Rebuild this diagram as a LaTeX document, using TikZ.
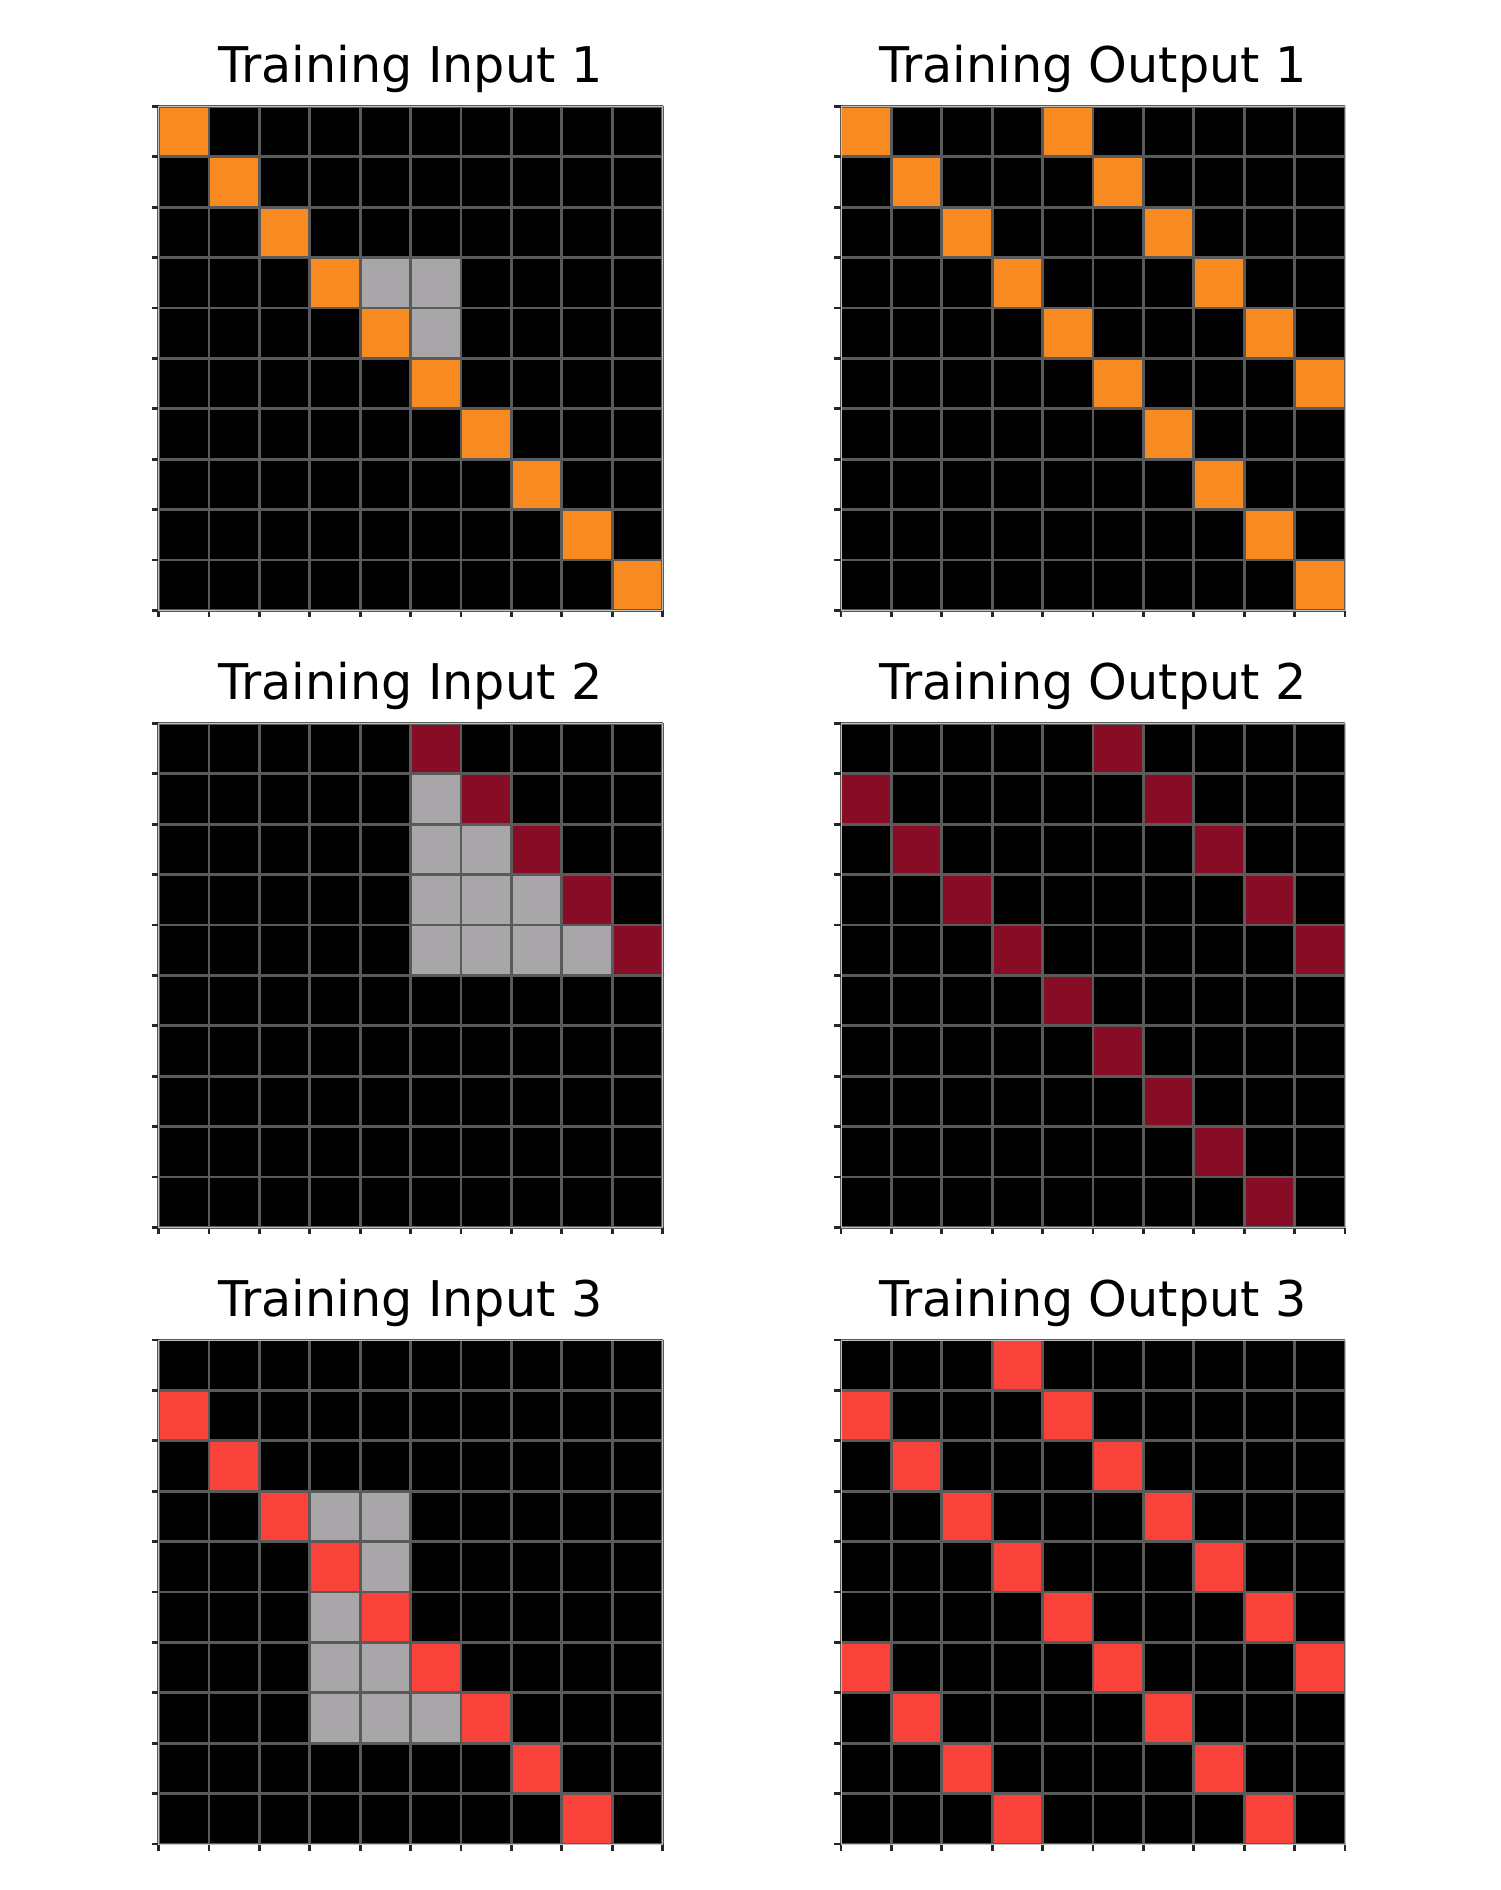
\documentclass[tikz,border=0pt]{standalone}
\usepackage{fontspec}
\setmainfont{DejaVu Sans}
\usepackage{xcolor}
\usepackage{tikz}
\usetikzlibrary{positioning}

\definecolor{arcorange}{HTML}{F88A22}
\definecolor{arcgray}{HTML}{A8A6A9}
\definecolor{arcmaroon}{HTML}{870C25}
\definecolor{arcred}{HTML}{F9433A}
\definecolor{gridgray}{HTML}{5A5A5A}

\tikzset{
    gridline/.style={gridgray, line width=0.28mm},
    axtick/.style={black!85, line width=0.28mm},
    spine/.style={black!25, line width=0.1mm},
    paneltitle/.style={anchor=base, font=\fontsize{14}{16}\selectfont, inner sep=0pt}
}

% one 10x10 panel: x, y, name, title, list of colour/row/col
\newcommand{\arcpanel}[5]{%
    \begin{scope}[shift={(#1,#2)}]
        \fill[black] (0,0) rectangle (504,504);
        \foreach \c/\r/\k in {#5}
            \fill[\c] (\k*50.4,\r*50.4) rectangle ++(50.4,50.4);
        \foreach \i in {0,...,10} {
            \draw[gridline] (\i*50.4,0) -- (\i*50.4,504);
            \draw[gridline] (0,\i*50.4) -- (504,\i*50.4);
            \draw[axtick] (-7,\i*50.4) -- (0,\i*50.4);
            \draw[axtick] (\i*50.4,504) -- (\i*50.4,511);
        }
        \draw[spine] (0,0) rectangle (504,504);
        \node[paneltitle] (#3) at (252,-24) {#4};
    \end{scope}}

\begin{document}
\begin{tikzpicture}[x=0.1mm, y=-0.1mm]
    \useasboundingbox (0,0) rectangle (1500,1890);

    % Pair 1
    \arcpanel{158.5}{106.5}{in1}{Training Input 1}{arcorange/0/0, arcorange/1/1, arcorange/2/2,
        arcorange/3/3, arcorange/4/4, arcorange/5/5, arcorange/6/6, arcorange/7/7, arcorange/8/8,
        arcorange/9/9, arcgray/3/4, arcgray/3/5, arcgray/4/5}
    \arcpanel{841}{106.5}{out1}{Training Output 1}{arcorange/0/0, arcorange/1/1, arcorange/2/2,
        arcorange/3/3, arcorange/4/4, arcorange/5/5, arcorange/6/6, arcorange/7/7, arcorange/8/8,
        arcorange/9/9, arcorange/0/4, arcorange/1/5, arcorange/2/6, arcorange/3/7, arcorange/4/8,
        arcorange/5/9}

    % Pair 2
    \arcpanel{158.5}{723.3}{in2}{Training Input 2}{arcmaroon/0/5, arcmaroon/1/6, arcmaroon/2/7,
        arcmaroon/3/8, arcmaroon/4/9, arcgray/1/5, arcgray/2/5, arcgray/2/6, arcgray/3/5,
        arcgray/3/6, arcgray/3/7, arcgray/4/5, arcgray/4/6, arcgray/4/7, arcgray/4/8}
    \arcpanel{841}{723.3}{out2}{Training Output 2}{arcmaroon/0/5, arcmaroon/1/6, arcmaroon/2/7,
        arcmaroon/3/8, arcmaroon/4/9, arcmaroon/1/0, arcmaroon/2/1, arcmaroon/3/2, arcmaroon/4/3,
        arcmaroon/5/4, arcmaroon/6/5, arcmaroon/7/6, arcmaroon/8/7, arcmaroon/9/8}

    % Pair 3
    \arcpanel{158.5}{1340}{in3}{Training Input 3}{arcred/1/0, arcred/2/1, arcred/3/2, arcred/4/3,
        arcred/5/4, arcred/6/5, arcred/7/6, arcred/8/7, arcred/9/8, arcgray/3/3, arcgray/3/4,
        arcgray/4/4, arcgray/5/3, arcgray/6/3, arcgray/6/4, arcgray/7/3, arcgray/7/4, arcgray/7/5}
    \arcpanel{841}{1340}{out3}{Training Output 3}{arcred/0/3, arcred/1/0, arcred/1/4, arcred/2/1,
        arcred/2/5, arcred/3/2, arcred/3/6, arcred/4/3, arcred/4/7, arcred/5/4, arcred/5/8,
        arcred/6/0, arcred/6/5, arcred/6/9, arcred/7/1, arcred/7/6, arcred/8/2, arcred/8/7,
        arcred/9/3, arcred/9/8}
\end{tikzpicture}
\end{document}
